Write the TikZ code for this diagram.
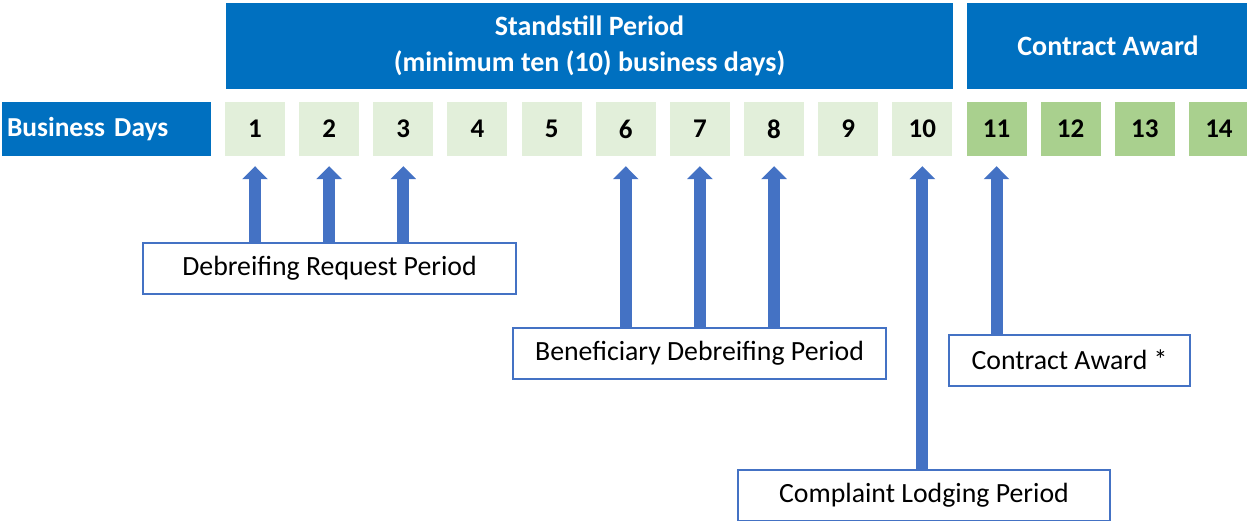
\documentclass[tikz,border=0pt]{standalone}
\usepackage{fontspec}
\setmainfont{Carlito}
\usetikzlibrary{arrows.meta,calc}

\definecolor{hdrblue}{HTML}{0070C0}
\definecolor{daylight}{HTML}{E2EFDA}
\definecolor{daygreen}{HTML}{A9D08E}
\definecolor{arrowblue}{HTML}{4472C4}

\tikzset{
  header/.style={fill=hdrblue, draw=none, text=white, font=\bfseries\fontsize{28}{36}\selectfont,
    align=center, inner sep=0pt},
  daybox/.style={draw=none, minimum width=60pt, minimum height=54pt, inner sep=0pt,
    font=\bfseries\fontsize{27}{30}\selectfont},
  standday/.style={daybox, fill=daylight},
  awardday/.style={daybox, fill=daygreen},
  periodbox/.style={draw=arrowblue, line width=2pt, fill=white, inner sep=0pt,
    minimum height=51pt, font=\fontsize{27.8}{30}\selectfont},
  blockarrow/.style={draw=arrowblue, line width=12pt,
    -{Triangle[width=25pt,length=13pt]}},
}

\begin{document}
\begin{tikzpicture}[x=1pt,y=-1pt]
\useasboundingbox (0,0) rectangle (1247,520);

% period headers
\node[header, minimum width=727pt, minimum height=86pt] (stand) at (589.5,46)
  {Standstill Period\\(minimum ten (10) business days)};
\node[header, minimum width=282pt, minimum height=86pt] (award) at (1108,46)
  {Contract Award};

% row label
\node[header, font=\bfseries\fontsize{27.4}{30}\selectfont, minimum height=54pt,
  text width=199pt, align=left, inner xsep=5pt]
  (bdays) at (106.5,129) {Business Days};

% business day cells
\foreach \i in {1,...,10}
  \node[standday] (d\i) at ({255+(\i-1)*74.15},129) {\i};
\foreach \i in {11,...,14}
  \node[awardday] (d\i) at ({255+(\i-1)*74.15},129) {\i};

% period description boxes
\node[periodbox, minimum width=373pt] (req) at (329.5,268.5) {Debreifing Request Period};
\node[periodbox, minimum width=373pt] (ben) at (699.5,353) {Beneficiary Debreifing Period};
\node[periodbox, minimum width=241pt] (con) at (1069.5,360) {Contract Award *};
\node[periodbox, minimum width=372pt] (cmp) at (924,495.5) {Complaint Lodging Period};

% arrow tips, just below the day cells
\foreach \i in {1,2,3,6,7,8,10,11}
  \coordinate (t\i) at ($(d\i.south)+(0,10)$);

% arrows from each description to its days
\foreach \i in {1,2,3}
  \draw[blockarrow] (req.north -| t\i) -- (t\i);
\foreach \i in {6,7,8}
  \draw[blockarrow] (ben.north -| t\i) -- (t\i);
\draw[blockarrow] (cmp.north -| t10) -- (t10);
\draw[blockarrow] (con.north -| t11) -- (t11);
\end{tikzpicture}
\end{document}
